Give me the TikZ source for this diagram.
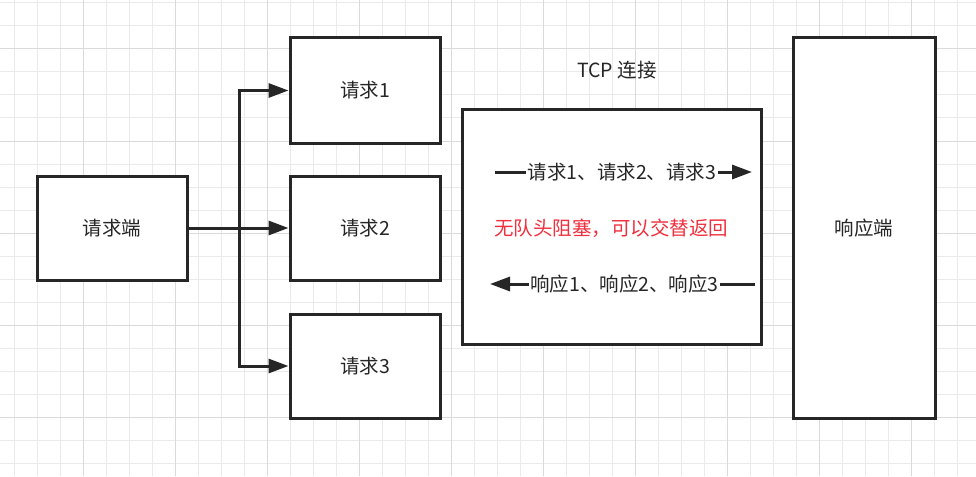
\documentclass[tikz,border=0pt]{standalone}
\usepackage{fontspec}
\setmainfont{Noto Sans CJK SC}
\usepackage{xcolor}
\usetikzlibrary{arrows.meta}
\definecolor{gridminor}{RGB}{234,234,234}
\definecolor{gridmajor}{RGB}{218,218,218}
\definecolor{linegray}{RGB}{38,38,38}
\definecolor{warnred}{RGB}{240,48,62}

\begin{document}
\begin{tikzpicture}[x=1pt, y=-1pt, line join=miter, >={Triangle[length=20pt,width=14pt]},
  box/.style={draw=linegray, line width=3pt, fill=white, inner sep=0pt},
  flow/.style={->, draw=linegray, line width=3pt},
  link/.style={draw=linegray, line width=3pt},
  msg/.style={inner sep=1.5pt},
  every node/.style={font=\fontsize{19.5}{21}\selectfont, text=linegray}]
  \useasboundingbox (0,0) rectangle (976,476);
  \fill[white] (0,0) rectangle (976,476);
  % background grid
  \foreach \x in {14,37,...,976} \draw[gridminor, line width=1pt] (\x,0) -- (\x,476);
  \foreach \y in {3,26,...,476} \draw[gridminor, line width=1pt] (0,\y) -- (976,\y);
  \foreach \x in {83,175,...,976} \draw[gridmajor, line width=1pt] (\x,0) -- (\x,476);
  \foreach \y in {49,141,...,476} \draw[gridmajor, line width=1pt] (0,\y) -- (976,\y);

  \node[box, minimum width=150pt, minimum height=104pt] (client) at (112,228) {请求端};
  \node[box, minimum width=150pt, minimum height=105pt] (req1) at (365,90.5) {请求1};
  \node[box, minimum width=150pt, minimum height=104pt] (req2) at (365,228) {请求2};
  \node[box, minimum width=150pt, minimum height=104pt] (req3) at (365,366) {请求3};
  \node[box, minimum width=299pt, minimum height=234pt] (tcp) at (611.5,227) {};
  \node[box, minimum width=142pt, minimum height=380pt] (server) at (864,228) {响应端};
  \node (tcplabel) at (617,70) {TCP 连接};

  \coordinate (fork) at (239,228);
  \draw[flow] (client.east) -- (req2.west);
  \draw[flow] (fork) |- (req1.west);
  \draw[flow] (fork) |- (req3.west);

  \node[msg] (reqmsg) at (622,172) {请求1、请求2、请求3};
  \coordinate (reqstart) at (495,172);
  \coordinate (reqend) at (752,172);
  \draw[link] (reqstart) -- (reqmsg.west);
  \draw[flow] (reqmsg.east) -- (reqend);

  \node[text=warnred] (note) at (611,228) {无队头阻塞，可以交替返回};

  \node[msg] (respmsg) at (624.5,284) {响应1、响应2、响应3};
  \coordinate (respstart) at (755,284);
  \coordinate (respend) at (490,284);
  \draw[link] (respstart) -- (respmsg.east);
  \draw[flow] (respmsg.west) -- (respend);
\end{tikzpicture}
\end{document}
